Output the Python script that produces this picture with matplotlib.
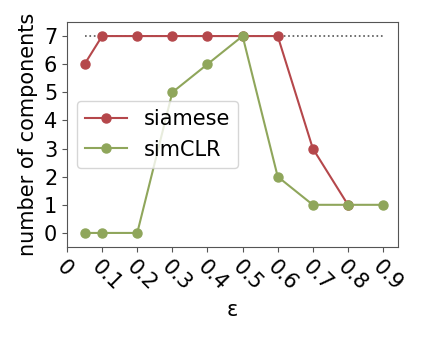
import matplotlib
matplotlib.use("Agg")
import matplotlib.pyplot as plt

# values
eps = [0.05, 0.1, 0.2, 0.3, 0.4, 0.5, 0.6, 0.7, 0.8, 0.9]
siamese = [6, 7, 7, 7, 7, 7, 7, 3, 1, None]
simclr = [0, 0, 0, 5, 6, 7, 2, 1, 1, 1]
n_true = 7
xticks = [0, 0.1, 0.2, 0.3, 0.4, 0.5, 0.6, 0.7, 0.8, 0.9]
xticklabels = ["0", "0.1", "0.2", "0.3", "0.4", "0.5", "0.6", "0.7", "0.8", "0.9"]

fig = plt.figure(figsize=(4.23, 3.38), dpi=100)
ax = fig.add_axes([67 / 423, 1 - 247 / 338, (398 - 67) / 423, (247 - 22) / 338])

ax.plot([eps[0], eps[-1]], [n_true, n_true], ":", color="#555555", lw=1.2)
sx = [e for e, v in zip(eps, siamese) if v is not None]
sy = [v for v in siamese if v is not None]
ax.plot(sx, sy, "-o", color="#b5474b", lw=1.5, ms=6.5, label="siamese")
ax.plot(eps, simclr, "-o", color="#8fa65b", lw=1.5, ms=6.5, label="simCLR")

ax.set_xlim(0, 0.9425)
ax.set_ylim(-0.5, 7.5)
ax.set_xticks(xticks)
ax.set_xticklabels(xticklabels, rotation=-45, ha="left", va="top",
                   rotation_mode="anchor", fontsize=15)
ax.set_yticks(range(8))
ax.tick_params(axis="y", labelsize=15)
ax.set_xlabel("ε", fontsize=15)
ax.set_ylabel("number of components", fontsize=15)
for s in ax.spines.values():
    s.set_color("#555555")
ax.tick_params(colors="#555555", labelcolor="black")

ax.legend(loc="center left", bbox_to_anchor=(0.03, 0.50), fontsize=15,
          handlelength=2.0, borderaxespad=0)

fig.savefig("out.png", dpi=100)
